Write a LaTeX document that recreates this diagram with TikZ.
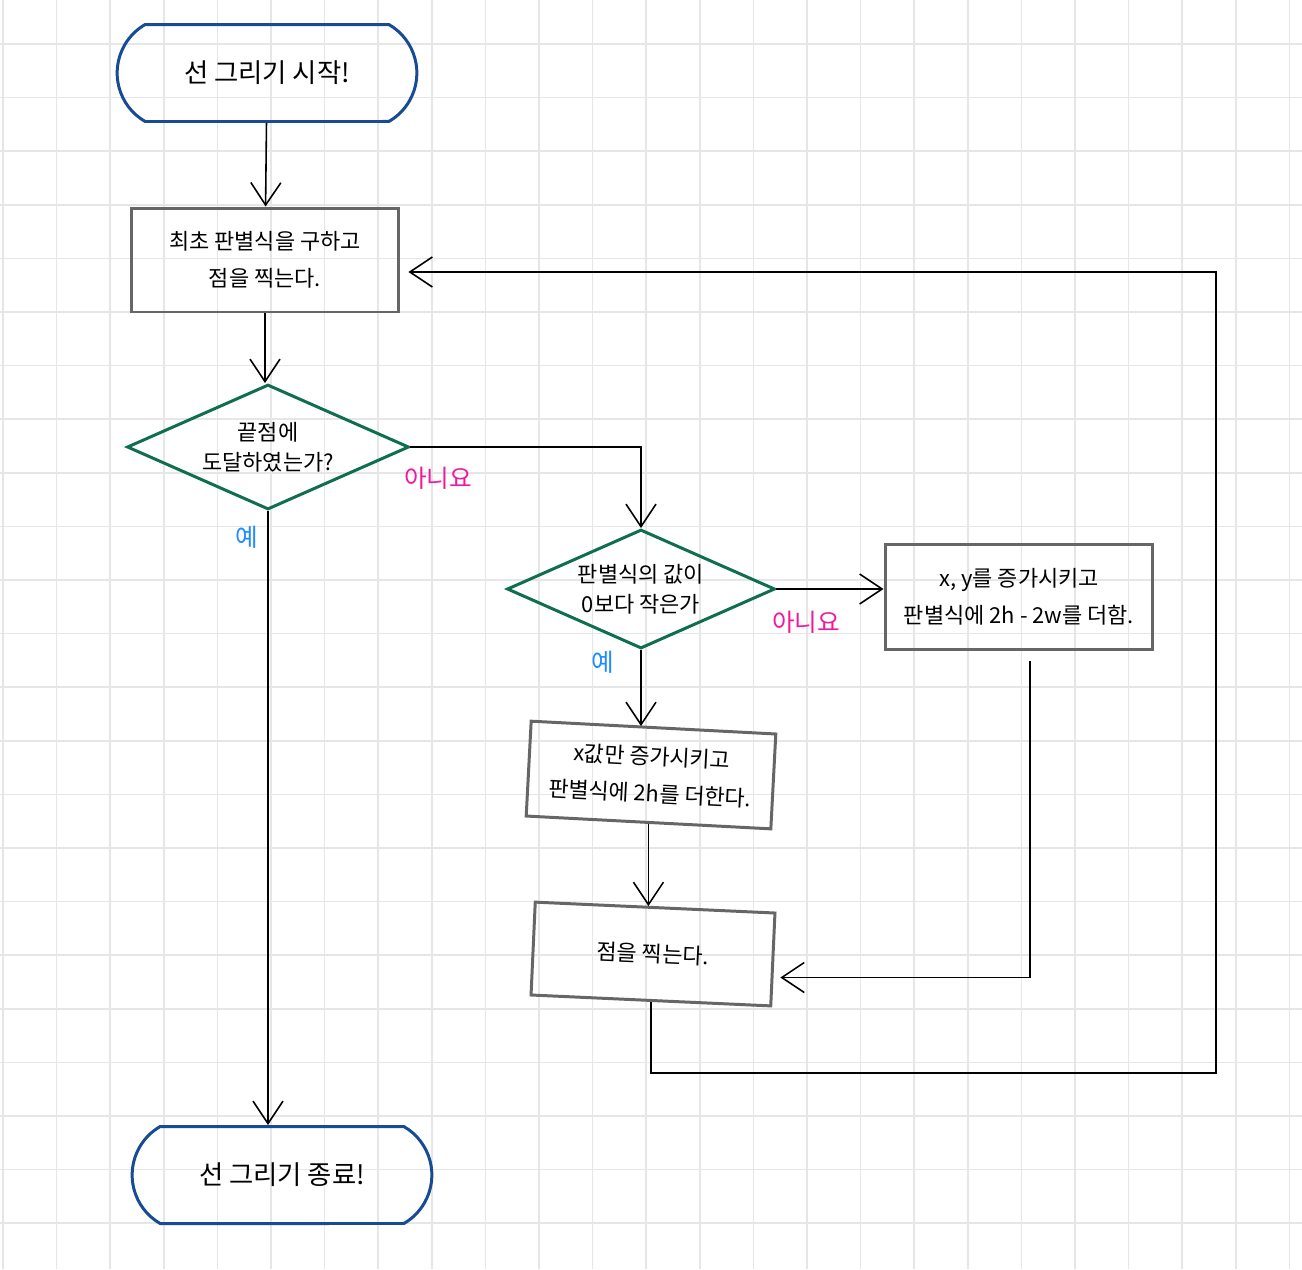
\documentclass[tikz,border=0pt]{standalone}
\usepackage{fontspec}
\setmainfont{Noto Sans CJK KR}
\usepackage{tikz}
\usetikzlibrary{shapes.geometric,shapes.misc,arrows.meta}
\definecolor{termblue}{HTML}{174B93}
\definecolor{decgreen}{HTML}{0F6E50}
\definecolor{boxgray}{HTML}{666666}
\definecolor{nopink}{HTML}{F0189E}
\definecolor{yesblue}{HTML}{1E8CFF}
\definecolor{gridgray}{HTML}{E6E6E6}

\begin{document}
\begin{tikzpicture}[x=0.02cm, y=-0.02cm,
    terminal/.style={rounded rectangle, rounded rectangle arc length=120, draw=termblue, line width=1.7pt, minimum width=6.23cm, minimum height=1.94cm, font=\fontsize{15}{18}\selectfont},
    process/.style={rectangle, draw=boxgray, line width=1.7pt, align=center, font=\fontsize{12.5}{21}\selectfont},
    decision/.style={diamond, aspect=2.1, inner sep=0pt, draw=decgreen, line width=1.7pt, align=center, font=\fontsize{12.5}{17}\selectfont},
    arrow/.style={-{Straight Barb[length=0.45cm,width=0.6cm]}, line width=0.9pt},
    yeslabel/.style={text=yesblue, font=\fontsize{14}{14}\selectfont},
    nolabel/.style={text=nopink, font=\fontsize{14}{14}\selectfont},
    gridline/.style={draw=gridgray, line width=1pt}
]
    \useasboundingbox[fill=white] (0,0) rectangle (1302,1269);
    \foreach \i in {0,...,24} \draw[gridline] ({3+53.6*\i},0) -- ({3+53.6*\i},1269);
    \foreach \j in {0,...,22} \draw[gridline] (0,{44+53.6*\j}) -- (1302,{44+53.6*\j});

    \node[terminal] (start) at (267,73) {선 그리기 시작!};
    \node[process, minimum width=5.36cm, minimum height=2.08cm] (init) at (265,260) {최초 판별식을 구하고\\점을 찍는다.};
    \node[decision, minimum width=5.64cm, minimum height=2.5cm] (reached) at (268,447) {끝점에\\도달하였는가?};
    \node[decision, minimum width=5.36cm, minimum height=2.38cm] (negative) at (641,589) {판별식의 값이\\0보다 작은가};
    \node[process, minimum width=5.36cm, minimum height=2.1cm] (stepxy) at (1019,597) {x, y를 증가시키고\\판별식에 2h - 2w를 더함.};
    \node[process, rotate=-3, minimum width=4.9cm, minimum height=1.9cm] (stepx) at (651,775) {x값만 증가시키고\\판별식에 2h를 더한다.};
    \node[process, rotate=-2.6, minimum width=4.8cm, minimum height=1.86cm] (plot) at (653,954) {점을 찍는다.};
    \node[terminal] (finish) at (282,1175) {선 그리기 종료!};
    \coordinate (loop) at (1216,1073);

    \node[yeslabel] (yes1) at (247,537) {예};
    \node[nolabel] (no1) at (438,478) {아니요};
    \node[yeslabel] (yes2) at (603,662) {예};
    \node[nolabel] (no2) at (806,622) {아니요};

    \draw[arrow] (start) -- (init);
    \draw[arrow] (init.south) -- (init.south |- reached.north);
    \draw[arrow] (reached.east) -| (negative.north);
    \draw[arrow] (reached.south) -- (reached.south |- finish.north);
    \draw[arrow] (negative.east) -- (negative.east -| stepxy.west);
    \draw[arrow] (negative.south) -- (negative.south |- stepx.north);
    \draw[arrow] (stepx.south) -- (stepx.south |- plot.north);
    \draw[arrow] ([shift={(11,10)}]stepxy.south) |- ([shift={(6,18)}]plot.east);
    \draw[arrow] (plot.south) |- (loop) |- ([shift={(8,12)}]init.east);
\end{tikzpicture}
\end{document}
